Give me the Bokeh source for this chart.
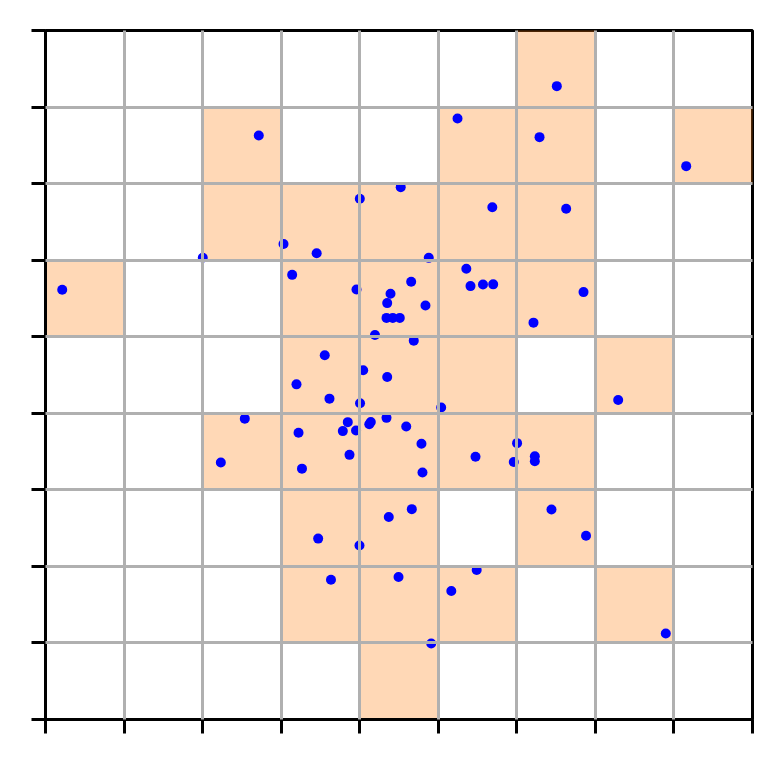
import numpy as np
from bokeh.plotting import figure
from bokeh.models import Range1d, FixedTicker, ColumnDataSource
from bokeh.embed import file_html
from bokeh.resources import INLINE

# Scatter points (data units, grid of 9 x 9 unit cells)
x_vals = [0.213, 2.715, 2.002, 3.030, 3.452, 3.140, 4.001, 4.522, 3.959, 4.392,
          4.350, 4.341, 4.421, 4.510, 4.194, 4.655, 4.837, 4.688, 4.879, 5.245,
          6.509, 6.289, 8.156, 5.688, 6.628, 5.357, 5.410, 5.569, 5.699, 6.849,
          6.212, 7.290, 5.037, 4.341, 4.592, 4.786, 4.799, 5.474, 6.003, 5.961,
          6.229, 6.229, 4.370, 4.663, 6.441, 6.881, 4.494, 5.489, 5.166, 4.910,
          7.896, 3.195, 3.615, 4.004, 4.044, 4.350, 2.537, 2.232, 3.221, 3.848,
          3.785, 3.953, 4.122, 4.141, 3.870, 3.265, 3.471, 3.997, 3.634, 3.555]
y_vals = [5.614, 7.629, 6.032, 6.212, 6.091, 5.808, 6.803, 6.954, 5.616, 5.562,
          5.439, 5.246, 5.246, 5.246, 5.022, 5.719, 5.407, 4.949, 6.030, 7.851,
          8.273, 7.607, 7.228, 6.692, 6.672, 5.889, 5.661, 5.681, 5.684, 5.583,
          5.184, 4.173, 4.075, 3.940, 3.827, 3.601, 3.226, 3.431, 3.610, 3.363,
          3.438, 3.373, 2.645, 2.748, 2.743, 2.400, 1.862, 1.952, 1.679, 0.992,
          1.123, 4.378, 4.191, 4.130, 4.561, 4.473, 3.930, 3.356, 3.745, 3.884,
          3.767, 3.775, 3.856, 3.887, 3.457, 3.277, 2.363, 2.272, 1.825, 4.757]
n_cells = 9
grid_ticks = list(range(n_cells + 1))

# Cells that contain at least one point
xa = np.array(x_vals)
ya = np.array(y_vals)
cols = np.clip(np.floor(xa).astype(int), 0, n_cells - 1)
rows = np.clip(np.floor(ya).astype(int), 0, n_cells - 1)
cells = sorted(set(zip(cols.tolist(), rows.tolist())))
cell_src = ColumnDataSource(dict(
    left=[c for c, r in cells], right=[c + 1 for c, r in cells],
    bottom=[r for c, r in cells], top=[r + 1 for c, r in cells]))

p = figure(width=767, height=749, x_range=Range1d(0, n_cells), y_range=Range1d(0, n_cells),
           output_backend="svg", toolbar_location=None,
           min_border_left=45, min_border_right=15, min_border_top=30, min_border_bottom=30)
p.background_fill_color = "white"
p.border_fill_color = "white"
p.outline_line_color = "black"
p.outline_line_width = 3

p.quad(left="left", right="right", bottom="bottom", top="top", source=cell_src,
       fill_color="#ff7f0e", fill_alpha=0.3, line_color="#ff7f0e", line_alpha=0.25, line_width=1)
p.scatter(x_vals, y_vals, size=10, fill_color="#0000ff", line_color="#0000ff", line_width=0)

for ax in (p.xaxis[0], p.yaxis[0]):
    ax.ticker = FixedTicker(ticks=grid_ticks)
    ax.axis_line_color = "black"
    ax.axis_line_width = 3
    ax.major_tick_line_color = "black"
    ax.major_tick_line_width = 3
    ax.major_tick_out = 14
    ax.major_tick_in = 0
    ax.minor_tick_line_color = None
    ax.major_label_text_font_size = "0px"
    ax.major_label_text_color = None
    ax.major_label_overrides = {t: "" for t in grid_ticks}

for g in (p.xgrid[0], p.ygrid[0]):
    g.ticker = FixedTicker(ticks=grid_ticks[1:-1])
    g.grid_line_color = "#b0b0b0"
    g.grid_line_width = 3
    g.grid_line_alpha = 1.0
    g.level = "overlay"

open("out.html", "w").write(file_html(p, INLINE))
